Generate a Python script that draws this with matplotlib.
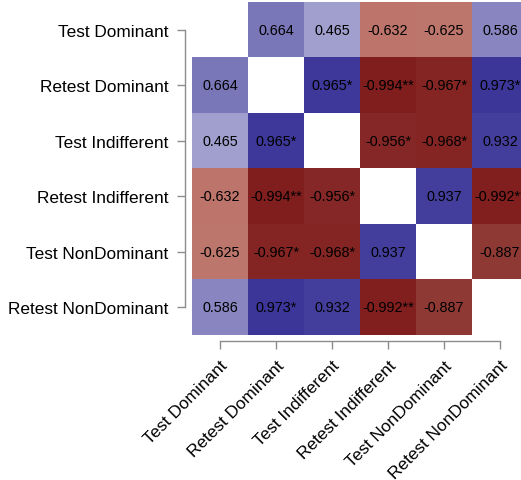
import matplotlib
matplotlib.use('Agg')
import matplotlib.pyplot as plt
from matplotlib.colors import LinearSegmentedColormap
import numpy as np

plt.rcParams['font.family'] = ['Liberation Sans', 'DejaVu Sans']

# data
labels = ['Test Dominant', 'Retest Dominant', 'Test Indifferent',
          'Retest Indifferent', 'Test NonDominant', 'Retest NonDominant']
r = np.array([
    [np.nan, 0.664, 0.465, -0.632, -0.625, 0.586],
    [0.664, np.nan, 0.965, -0.994, -0.967, 0.973],
    [0.465, 0.965, np.nan, -0.956, -0.968, 0.932],
    [-0.632, -0.994, -0.956, np.nan, 0.937, -0.992],
    [-0.625, -0.967, -0.968, 0.937, np.nan, -0.887],
    [0.586, 0.973, 0.932, -0.992, -0.887, np.nan],
])
stars = [
    ['', '', '', '', '', ''],
    ['', '', '*', '**', '*', '*'],
    ['', '*', '', '*', '*', ''],
    ['', '**', '*', '', '', '**'],
    ['', '*', '*', '', '', ''],
    ['', '*', '', '**', '', ''],
]

# red - white - blue ramp
cmap = LinearSegmentedColormap.from_list('rwb', [
    (0.0, (128/255, 30/255, 30/255)),
    (0.06, (145/255, 60/255, 55/255)),
    (0.18, (188/255, 115/255, 105/255)),
    (0.5, (1, 1, 1)),
    (1.0, (55/255, 50/255, 150/255)),
])
cmap.set_bad('white')

W, H = 521, 481
fig = plt.figure(figsize=(W/100, H/100), dpi=100)
ax = fig.add_axes([185/W, (H-341.8)/H, 336/W, 341.3/H])

n = len(labels)
ax.imshow(np.ma.masked_invalid(r), cmap=cmap, vmin=-1, vmax=1,
          extent=(0.5, n+0.5, n+0.5, 0.5), aspect='auto', interpolation='nearest')

for i in range(n):
    for j in range(n):
        if np.isnan(r[i, j]):
            continue
        ax.text(j+1, i+1, '%.3f%s' % (r[i, j], stars[i][j]), ha='center', va='center',
                fontsize=10.4, color='black')

ax.set_xlim(0.375, n+0.375)
ax.set_ylim(6.61, 0.45)

ax.set_xticks(np.arange(1, n+1))
ax.set_yticks(np.arange(1, n+1))
ax.set_xticklabels(labels, rotation=45, ha='right', va='top', rotation_mode='anchor')
ax.set_yticklabels(labels)

grey = '#8c8c8c'
for sp in ('top', 'right'):
    ax.spines[sp].set_visible(False)
for sp in ('left', 'bottom'):
    ax.spines[sp].set_color(grey)
    ax.spines[sp].set_linewidth(1.0)
ax.spines['left'].set_bounds(1, n)
ax.spines['bottom'].set_bounds(1, n)
ax.tick_params(axis='both', colors=grey, labelcolor='black', labelsize=12.4,
               length=6, width=1.0)
ax.tick_params(axis='y', pad=6)
ax.tick_params(axis='x', pad=6)

fig.savefig('out.png', dpi=100, facecolor='white')
